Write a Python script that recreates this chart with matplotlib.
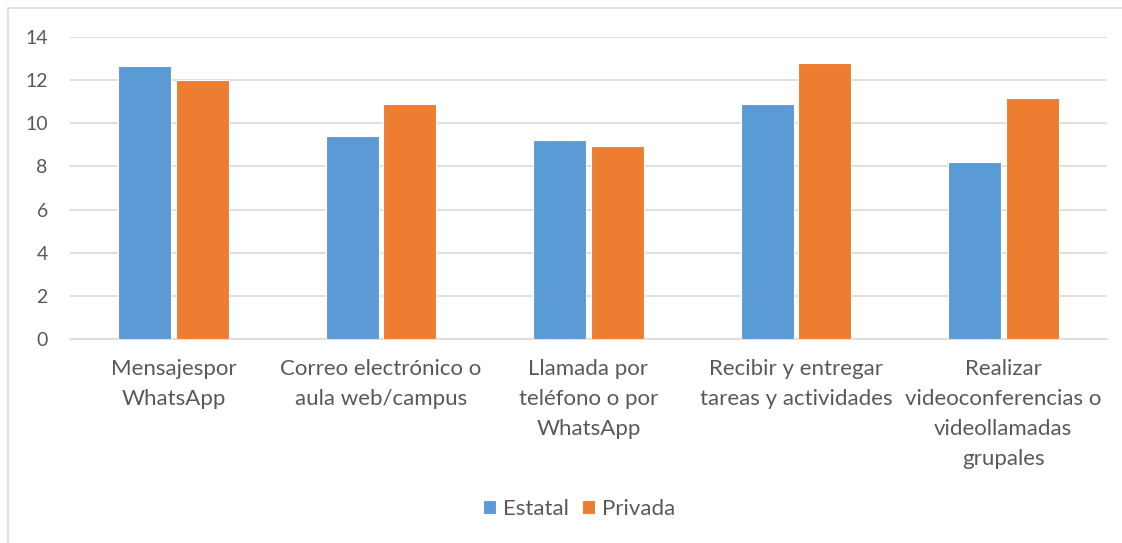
import numpy as np
import matplotlib
matplotlib.use('Agg')
import matplotlib.pyplot as plt
from matplotlib.patches import Rectangle

categories = ['Mensajespor\nWhatsApp',
              'Correo electrónico o\naula web/campus',
              'Llamada por\nteléfono o por\nWhatsApp',
              'Recibir y entregar\ntareas y actividades',
              'Realizar\nvideoconferencias o\nvideollamadas\ngrupales']
estatal = [12.65, 9.4, 9.22, 10.88, 8.2]
privada = [12.0, 10.88, 8.94, 12.77, 11.16]
series_names = ['Estatal', 'Privada']
yticks = [0, 2, 4, 6, 8, 10, 12, 14]

blue = '#5B9BD5'
orange = '#ED7D31'
grey_text = '#595959'
grid_col = '#D9D9D9'

plt.rcParams['font.family'] = ['Lato', 'DejaVu Sans']

W, H = 1122, 543
fig = plt.figure(figsize=(W / 100, H / 100), dpi=100)

# outer chart frame (cut off at right and bottom)
fig.patches.append(Rectangle((8 / W, -0.1), 1.2, 1 - 8 / H + 0.1,
                             transform=fig.transFigure, fill=False,
                             edgecolor=grid_col, lw=1.2))

ax = fig.add_axes([70 / W, (H - 339.3) / H, 1037 / W, 302.6 / H])
x = np.arange(len(categories))
bw = 0.255
off = 0.139
ax.bar(x - off, estatal, bw, color=blue, edgecolor='white', linewidth=0.8,
       label=series_names[0], zorder=3)
ax.bar(x + off, privada, bw, color=orange, edgecolor='white', linewidth=0.8,
       label=series_names[1], zorder=3)

ax.set_xlim(-0.5, len(categories) - 0.5)
ax.set_ylim(0, 14)
ax.set_yticks(yticks)
ax.set_yticklabels([str(v) for v in yticks])
ax.yaxis.grid(True, color=grid_col, lw=1.2, zorder=0)
ax.set_axisbelow(True)
for s in ['top', 'right', 'left']:
    ax.spines[s].set_visible(False)
ax.spines['bottom'].set_color(grid_col)
ax.spines['bottom'].set_linewidth(1.2)

ax.set_xticks(x)
ax.set_xticklabels(categories, linespacing=1.62)
ax.tick_params(axis='x', length=0, pad=14, labelsize=16, labelcolor=grey_text)
ax.tick_params(axis='y', length=0, pad=16, labelsize=14, labelcolor=grey_text)

leg = fig.legend(loc='center', bbox_to_anchor=(579 / W, (H - 509) / H), ncol=2,
                 frameon=False, fontsize=16, handlelength=0.6, handleheight=0.6,
                 handletextpad=0.3, columnspacing=0.6)
for t in leg.get_texts():
    t.set_color(grey_text)

fig.savefig('out.png', dpi=100)
